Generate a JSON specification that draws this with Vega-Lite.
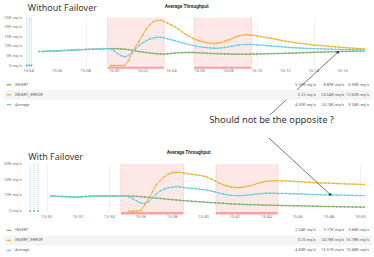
{
"$schema":"https://vega.github.io/schema/vega-lite/v6.json",
"background":"white",
"padding":{"left":3,"top":3.5,"right":3,"bottom":1},
"bounds":"flush",
"spacing":14.3,
"config":{"view":{"stroke":null},"font":"Roboto","axis":{"labels":false,"ticks":false,"tickSize":0,"domain":false,"gridColor":"#e9e9e9","gridWidth":0.6}},
"datasets":{
"top":[
{"t":54.75,"i":7.3,"a":7.3},{"t":55,"i":7.3,"a":7.3},{"t":55.25,"i":7.4,"a":7.4},{"t":55.5,"i":7.4,"a":7.4},{"t":55.75,"i":7.5,"a":7.5},{"t":56,"i":7.6,"a":7.6},{"t":56.25,"i":7.7,"a":7.7},{"t":56.5,"i":7.8,"a":7.8},{"t":56.75,"i":7.9,"a":7.9},{"t":57,"i":8.0,"a":8.0},{"t":57.25,"i":8.1,"a":8.1},{"t":57.5,"i":8.2,"a":8.2},{"t":57.75,"i":8.3,"a":8.3},{"t":58,"i":8.4,"a":8.4},{"t":58.25,"i":8.4,"a":8.4},{"t":58.5,"i":8.5,"a":8.5},{"t":58.75,"i":8.5,"a":8.5},{"t":59,"i":8.6,"a":8.6},{"t":59.25,"i":8.7,"a":8.7},{"t":59.5,"i":8.8,"a":8.8},
{"t":59.75,"i":8.8,"e":0,"a":8.6},{"t":60,"i":8.8,"e":0,"a":7.6},{"t":60.25,"i":8.7,"e":0,"a":6.2},{"t":60.5,"i":8.6,"e":0,"a":5.1},{"t":60.75,"i":8.5,"e":0.2,"a":4.6},{"t":61,"i":8.3,"e":2.5,"a":5.2},{"t":61.25,"i":8.0,"e":6.5,"a":6.8},{"t":61.5,"i":7.6,"e":9.8,"a":8.7},{"t":61.75,"i":7.3,"e":12.6,"a":10.4},{"t":62,"i":7.0,"e":16.0,"a":11.8},{"t":62.25,"i":6.8,"e":19.0,"a":12.9},{"t":62.5,"i":6.5,"e":21.3,"a":13.8},{"t":62.75,"i":6.3,"e":22.8,"a":14.4},{"t":63,"i":6.1,"e":23.5,"a":14.7},{"t":63.25,"i":6.0,"e":23.6,"a":14.7},{"t":63.5,"i":6.0,"e":23.0,"a":14.4},{"t":63.75,"i":6.1,"e":22.0,"a":13.9},{"t":64,"i":6.3,"e":21.1,"a":13.4},{"t":64.25,"i":6.5,"e":20.2,"a":12.9},{"t":64.5,"i":6.6,"e":18.9,"a":12.4},{"t":64.75,"i":6.7,"e":17.6,"a":11.9},{"t":65,"i":6.8,"e":16.3,"a":11.4},{"t":65.25,"i":6.8,"e":15.2,"a":10.9},{"t":65.5,"i":6.8,"e":14.2,"a":10.5},{"t":65.75,"i":6.7,"e":13.4,"a":10.1},{"t":66,"i":6.6,"e":12.8,"a":9.8},{"t":66.25,"i":6.5,"e":12.3,"a":9.5},{"t":66.5,"i":6.4,"e":11.9,"a":9.3},{"t":66.75,"i":6.3,"e":11.6,"a":9.1},{"t":67,"i":6.2,"e":11.5,"a":9.0},{"t":67.25,"i":6.1,"e":11.6,"a":9.0},{"t":67.5,"i":6.1,"e":12.0,"a":9.1},{"t":67.75,"i":6.0,"e":12.6,"a":9.4},{"t":68,"i":6.0,"e":13.3,"a":9.7},{"t":68.25,"i":5.9,"e":14.0,"a":10.0},{"t":68.5,"i":5.9,"e":14.8,"a":10.4},{"t":68.75,"i":5.9,"e":15.4,"a":10.7},{"t":69,"i":5.9,"e":15.8,"a":10.9},{"t":69.25,"i":5.9,"e":16.0,"a":11.0},{"t":69.5,"i":5.9,"e":15.9,"a":11.0},{"t":69.75,"i":6.0,"e":15.7,"a":10.9},{"t":70,"i":6.0,"e":15.4,"a":10.8},{"t":70.25,"i":6.0,"e":15.1,"a":10.6},{"t":70.5,"i":6.1,"e":14.8,"a":10.5},{"t":70.75,"i":6.1,"e":14.5,"a":10.3},{"t":71,"i":6.2,"e":14.2,"a":10.2},{"t":71.25,"i":6.2,"e":13.8,"a":10.0},{"t":71.5,"i":6.3,"e":13.4,"a":9.9},{"t":71.75,"i":6.3,"e":13.0,"a":9.7},{"t":72,"i":6.4,"e":12.7,"a":9.6},{"t":72.25,"i":6.4,"e":12.4,"a":9.4},{"t":72.5,"i":6.5,"e":12.1,"a":9.3},{"t":72.75,"i":6.5,"e":11.8,"a":9.2},{"t":73,"i":6.6,"e":11.6,"a":9.1},{"t":73.25,"i":6.7,"e":11.4,"a":9.0},{"t":73.5,"i":6.7,"e":11.1,"a":8.9},{"t":73.75,"i":6.8,"e":10.9,"a":8.9},{"t":74,"i":6.9,"e":10.7,"a":8.8},{"t":74.25,"i":6.9,"e":10.5,"a":8.7},{"t":74.5,"i":7.0,"e":10.4,"a":8.7},{"t":74.75,"i":7.0,"e":10.2,"a":8.6},{"t":75,"i":7.1,"e":10.0,"a":8.5},{"t":75.25,"i":7.1,"e":9.9,"a":8.5},{"t":75.5,"i":7.2,"e":9.7,"a":8.4},{"t":75.75,"i":7.2,"e":9.6,"a":8.4},{"t":76,"i":7.3,"e":9.4,"a":8.3},{"t":76.25,"i":7.3,"e":9.3,"a":8.3},{"t":76.5,"i":7.4,"e":9.1,"a":8.2},{"t":76.75,"i":7.4,"e":9.0,"a":8.2},{"t":77,"i":7.5,"e":8.9,"a":8.2},{"t":77.25,"i":7.5,"e":8.8,"a":8.1},{"t":77.5,"i":7.6,"e":8.7,"a":8.1}
],
"bot":[
{"t":30.25,"i":9.6,"a":9.6},{"t":30.5,"i":9.5,"a":9.5},{"t":30.75,"i":9.4,"a":9.4},{"t":31,"i":9.3,"a":9.3},{"t":31.25,"i":9.2,"a":9.2},{"t":31.5,"i":9.1,"a":9.1},{"t":31.75,"i":9.0,"a":9.0},{"t":32,"i":9.0,"a":9.0},{"t":32.25,"i":9.1,"a":9.1},{"t":32.5,"i":9.3,"a":9.3},{"t":32.75,"i":9.5,"a":9.5},{"t":33,"i":9.6,"a":9.6},{"t":33.25,"i":9.7,"a":9.7},{"t":33.5,"i":9.7,"a":9.7},{"t":33.75,"i":9.7,"a":9.7},{"t":34,"i":9.7,"a":9.7},{"t":34.25,"i":9.7,"a":9.7},{"t":34.5,"i":9.7,"a":9.7},{"t":34.75,"i":9.7,"a":9.7},{"t":35,"i":9.7,"a":9.6},
{"t":35.25,"i":9.6,"e":0,"a":9.0},{"t":35.5,"i":9.5,"e":0,"a":7.8},{"t":35.75,"i":9.4,"e":0,"a":6.4},{"t":36,"i":9.2,"e":0.4,"a":5.2},{"t":36.25,"i":9.0,"e":3.8,"a":4.9},{"t":36.5,"i":8.8,"e":8.0,"a":6.0},{"t":36.75,"i":8.6,"e":12.5,"a":8.4},{"t":37,"i":8.3,"e":16.8,"a":11.0},{"t":37.25,"i":8.1,"e":19.6,"a":12.9},{"t":37.5,"i":7.8,"e":21.9,"a":14.1},{"t":37.75,"i":7.6,"e":23.6,"a":14.9},{"t":38,"i":7.3,"e":24.5,"a":15.3},{"t":38.25,"i":7.1,"e":24.8,"a":15.5},{"t":38.5,"i":6.9,"e":24.7,"a":15.4},{"t":38.75,"i":6.7,"e":24.3,"a":15.1},{"t":39,"i":6.5,"e":23.9,"a":14.8},{"t":39.25,"i":6.3,"e":23.5,"a":14.5},{"t":39.5,"i":6.1,"e":23.2,"a":14.3},{"t":39.75,"i":5.9,"e":22.8,"a":14.0},{"t":40,"i":5.8,"e":22.3,"a":13.7},{"t":40.25,"i":5.6,"e":21.6,"a":13.3},{"t":40.5,"i":5.4,"e":20.5,"a":12.8},{"t":40.75,"i":5.3,"e":19.2,"a":12.2},{"t":41,"i":5.1,"e":17.9,"a":11.5},{"t":41.25,"i":5.0,"e":16.9,"a":10.9},{"t":41.5,"i":4.8,"e":16.0,"a":10.4},{"t":41.75,"i":4.6,"e":15.4,"a":10.1},{"t":42,"i":4.5,"e":15.1,"a":9.9},{"t":42.25,"i":4.4,"e":15.0,"a":9.8},{"t":42.5,"i":4.3,"e":15.2,"a":9.9},{"t":42.75,"i":4.2,"e":15.7,"a":10.1},{"t":43,"i":4.1,"e":16.3,"a":10.4},{"t":43.25,"i":4.1,"e":17.0,"a":10.7},{"t":43.5,"i":4.0,"e":17.8,"a":11.0},{"t":43.75,"i":3.9,"e":18.5,"a":11.2},{"t":44,"i":3.8,"e":19.0,"a":11.4},{"t":44.25,"i":3.8,"e":19.3,"a":11.4},{"t":44.5,"i":3.7,"e":19.4,"a":11.4},{"t":44.75,"i":3.7,"e":19.4,"a":11.3},{"t":45,"i":3.6,"e":19.3,"a":11.3},{"t":45.25,"i":3.5,"e":19.2,"a":11.2},{"t":45.5,"i":3.5,"e":19.1,"a":11.1},{"t":45.75,"i":3.4,"e":19.0,"a":11.1},{"t":46,"i":3.4,"e":18.8,"a":11.0},{"t":46.25,"i":3.3,"e":18.7,"a":10.9},{"t":46.5,"i":3.3,"e":18.5,"a":10.8},{"t":46.75,"i":3.2,"e":18.4,"a":10.7},{"t":47,"i":3.1,"e":18.2,"a":10.6},{"t":47.25,"i":3.1,"e":18.1,"a":10.6},{"t":47.5,"i":3.0,"e":18.0,"a":10.5},{"t":47.75,"i":3.0,"e":17.9,"a":10.4},{"t":48,"i":2.9,"e":17.8,"a":10.4},{"t":48.25,"i":2.9,"e":17.7,"a":10.3},{"t":48.5,"i":2.8,"e":17.6,"a":10.3},{"t":48.75,"i":2.8,"e":17.5,"a":10.2},{"t":49,"i":2.7,"e":17.4,"a":10.1},{"t":49.25,"i":2.7,"e":17.3,"a":10.1},{"t":49.5,"i":2.6,"e":17.2,"a":10.0},{"t":49.75,"i":2.6,"e":17.2,"a":10.0},{"t":50,"i":2.6,"e":17.1,"a":9.9},{"t":50.25,"i":2.55,"e":17.0,"a":9.9}
],
"topReg":[{"t":59.53,"t2":63.5},{"t":65.6,"t2":69.63}],
"botReg":[{"t":34.73,"t2":38.72},{"t":40.8,"t2":44.73}],
"topZero":[{"t":53.88},{"t":54.05},{"t":54.2}],
"botZero":[{"t":28.95},{"t":29.2},{"t":29.45}],
"topXL":[{"t":54,"lab":"15:54"},{"t":56,"lab":"15:56"},{"t":58,"lab":"15:58"},{"t":60,"lab":"16:00"},{"t":62,"lab":"16:02"},{"t":64,"lab":"16:04"},{"t":66,"lab":"16:06"},{"t":68,"lab":"16:08"},{"t":70,"lab":"16:10"},{"t":72,"lab":"16:12"},{"t":74,"lab":"16:14"},{"t":76,"lab":"16:16"}],
"botXL":[{"t":30,"lab":"15:30"},{"t":32,"lab":"15:32"},{"t":34,"lab":"15:34"},{"t":36,"lab":"15:36"},{"t":38,"lab":"15:38"},{"t":40,"lab":"15:40"},{"t":42,"lab":"15:42"},{"t":44,"lab":"15:44"},{"t":46,"lab":"15:46"},{"t":48,"lab":"15:48"},{"t":50,"lab":"15:50"}],
"topYL":[{"v":0,"lab":"0 req/s"},{"v":5,"lab":"5K req/s"},{"v":10,"lab":"10K req/s"},{"v":15,"lab":"15K req/s"},{"v":20,"lab":"20K req/s"},{"v":25,"lab":"25K req/s"}],
"botYL":[{"v":0,"lab":"0 req/s"},{"v":10,"lab":"10K req/s"},{"v":20,"lab":"20K req/s"},{"v":30,"lab":"30K req/s"}],
"topNotes":[{"k":"big","txt":"Without Failover","t":53.95,"v":30.05},{"k":"ttl","txt":"Average Throughput","t":65.08,"v":30.7},{"k":"note","txt":"Should not be the opposite ?","t":71.03,"v":-28.3}],
"botNotes":[{"k":"big","txt":"With Failover","t":28.82,"v":34.8},{"k":"ttl","txt":"Average Throughput","t":39.05,"v":36.8}],
"topArrow":[{"t":70.92,"v":-25.7,"end":0},{"t":75.67,"v":6.9,"end":1}],
"botArrow":[{"t":44.18,"v":46.6,"end":0},{"t":48.08,"v":10.6,"end":1}],
"topLegend":[{"name":"INSERT","min":"5.59K req/s","max":"8.83K req/s","avg":"6.90K req/s"},{"name":"INSERT_ERROR","min":"0.22 req/s","max":"23.64K req/s","avg":"12.60K req/s"},{"name":"Average","min":"4.50K req/s","max":"14.74K req/s","avg":"9.34K req/s"}],
"botLegend":[{"name":"INSERT","min":"2.54K req/s","max":"9.72K req/s","avg":"5.84K req/s"},{"name":"INSERT_ERROR","min":"0.25 req/s","max":"24.78K req/s","avg":"16.78K req/s"},{"name":"Average","min":"4.83K req/s","max":"15.51K req/s","avg":"10.48K req/s"}]
},
"vconcat":[
{"width":341,"height":48,"layer":[
{"data":{"name":"topReg"},"mark":{"type":"rect","fill":"#fde8e8"},"encoding":{"x":{"field":"t","type":"quantitative"},"x2":{"field":"t2"}}},
{"data":{"name":"topReg"},"mark":{"type":"rule","color":"#f1a3a3","strokeDash":[1,1],"strokeWidth":0.7},"encoding":{"x":{"field":"t","type":"quantitative"}}},
{"data":{"name":"topReg"},"mark":{"type":"rule","color":"#f1a3a3","strokeDash":[1,1],"strokeWidth":0.7},"encoding":{"x":{"field":"t2","type":"quantitative"}}},
{"data":{"name":"topReg"},"mark":{"type":"rect","fill":"#f7a1a1","clip":false},"encoding":{"x":{"field":"t","type":"quantitative"},"x2":{"field":"t2"},"y":{"datum":-0.5,"type":"quantitative"},"y2":{"datum":-1.7}}},
{"data":{"name":"topZero"},"mark":{"type":"rule","color":"#7cc7ea","strokeDash":[1,1],"strokeWidth":0.7},"encoding":{"x":{"field":"t","type":"quantitative"}}},
{"data":{"name":"topZero"},"mark":{"type":"point","filled":true,"size":3.5,"color":"#5a9bd5","opacity":1,"clip":false},"encoding":{"x":{"field":"t","type":"quantitative"},"y":{"datum":0,"type":"quantitative"}}},
{"data":{"name":"top"},"transform":[{"fold":["i","e","a"],"as":["s","v"]},{"filter":"isValid(datum.v)"}],
"mark":{"type":"line","strokeWidth":1,"clip":false,"point":{"filled":true,"size":3.5}},
"encoding":{
"x":{"field":"t","type":"quantitative","scale":{"domain":[53.82,77.72],"nice":false,"zero":false},"axis":{"title":null,"values":[54,56,58,60,62,64,66,68,70,72,74,76]}},
"y":{"field":"v","type":"quantitative","scale":{"domain":[0,25],"nice":false},"axis":{"title":null,"values":[0,5,10,15,20,25]}},
"color":{"field":"s","type":"nominal","scale":{"domain":["i","e","a"],"range":["#7EB26D","#EAB839","#6ED0E0"]},"legend":null}}},
{"data":{"name":"topXL"},"mark":{"type":"text","align":"center","baseline":"middle","fontSize":4.3,"color":"#7a7a7a","clip":false},"encoding":{"x":{"field":"t","type":"quantitative"},"y":{"datum":-3.1,"type":"quantitative"},"text":{"field":"lab"}}},
{"data":{"name":"topYL"},"mark":{"type":"text","align":"right","baseline":"middle","fontSize":4.1,"color":"#7a7a7a","clip":false},"encoding":{"x":{"datum":53.54,"type":"quantitative"},"y":{"field":"v","type":"quantitative"},"text":{"field":"lab"}}},
{"data":{"name":"topArrow"},"mark":{"type":"line","color":"#555555","strokeWidth":0.8,"clip":false},"encoding":{"x":{"field":"t","type":"quantitative"},"y":{"field":"v","type":"quantitative"}}},
{"data":{"name":"topArrow"},"transform":[{"filter":"datum.end == 1"}],"mark":{"type":"point","shape":"square","filled":true,"size":6,"color":"#444444","opacity":1,"clip":false},"encoding":{"x":{"field":"t","type":"quantitative"},"y":{"field":"v","type":"quantitative"}}},
{"data":{"name":"topNotes"},"transform":[{"filter":"datum.k == 'big'"}],"mark":{"type":"text","align":"left","baseline":"middle","fontSize":9,"font":"Noto Sans","color":"#3a3a3a","clip":false},"encoding":{"x":{"field":"t","type":"quantitative"},"y":{"field":"v","type":"quantitative"},"text":{"field":"txt"}}},
{"data":{"name":"topNotes"},"transform":[{"filter":"datum.k == 'ttl'"}],"mark":{"type":"text","align":"center","baseline":"middle","fontSize":4.8,"fontWeight":"bold","font":"Roboto","color":"#333333","clip":false},"encoding":{"x":{"field":"t","type":"quantitative"},"y":{"field":"v","type":"quantitative"},"text":{"field":"txt"}}},
{"data":{"name":"topNotes"},"transform":[{"filter":"datum.k == 'note'"}],"mark":{"type":"text","align":"center","baseline":"middle","fontSize":9.3,"font":"Noto Sans","color":"#333333","clip":false},"encoding":{"x":{"field":"t","type":"quantitative"},"y":{"field":"v","type":"quantitative"},"text":{"field":"txt"}}}
]},
{"width":341,"height":69.7,"data":{"name":"topLegend"},
"encoding":{"y":{"field":"name","type":"nominal","scale":{"domain":["INSERT","INSERT_ERROR","Average","_4","_5","_6","_7"],"paddingInner":0,"paddingOuter":0},"axis":null}},
"layer":[
{"transform":[{"filter":"datum.name == 'INSERT_ERROR'"}],"mark":{"type":"rect","fill":"#f4f4f4"},"encoding":{"x":{"datum":-6.5,"type":"quantitative","scale":{"domain":[0,100],"nice":false,"zero":false},"axis":null},"x2":{"datum":101.5}}},
{"mark":{"type":"point","shape":"M-1,-0.3H1V0.3H-1Z","filled":true,"size":20,"opacity":1},"encoding":{"x":{"datum":-5,"type":"quantitative"},"color":{"field":"name","type":"nominal","scale":{"domain":["INSERT","INSERT_ERROR","Average"],"range":["#7EB26D","#EAB839","#6ED0E0"]},"legend":null}}},
{"mark":{"type":"text","align":"left","baseline":"middle","fontSize":4,"color":"#666666"},"encoding":{"x":{"datum":-3.2,"type":"quantitative"},"text":{"field":"name"}}},
{"mark":{"type":"text","align":"right","baseline":"middle","fontSize":4,"color":"#666666"},"encoding":{"x":{"datum":85,"type":"quantitative"},"text":{"field":"min"}}},
{"mark":{"type":"text","align":"right","baseline":"middle","fontSize":4,"color":"#666666"},"encoding":{"x":{"datum":93.3,"type":"quantitative"},"text":{"field":"max"}}},
{"mark":{"type":"text","align":"right","baseline":"middle","fontSize":4,"color":"#666666"},"encoding":{"x":{"datum":100.6,"type":"quantitative"},"text":{"field":"avg"}}}
]},
{"width":341,"height":47,"layer":[
{"data":{"name":"botReg"},"mark":{"type":"rect","fill":"#fde8e8"},"encoding":{"x":{"field":"t","type":"quantitative"},"x2":{"field":"t2"}}},
{"data":{"name":"botReg"},"mark":{"type":"rule","color":"#f1a3a3","strokeDash":[1,1],"strokeWidth":0.7},"encoding":{"x":{"field":"t","type":"quantitative"}}},
{"data":{"name":"botReg"},"mark":{"type":"rule","color":"#f1a3a3","strokeDash":[1,1],"strokeWidth":0.7},"encoding":{"x":{"field":"t2","type":"quantitative"}}},
{"data":{"name":"botReg"},"mark":{"type":"rect","fill":"#f7a1a1","clip":false},"encoding":{"x":{"field":"t","type":"quantitative"},"x2":{"field":"t2"},"y":{"datum":-0.45,"type":"quantitative"},"y2":{"datum":-2.1}}},
{"data":{"name":"botZero"},"mark":{"type":"rule","color":"#7cc7ea","strokeDash":[1,1],"strokeWidth":0.7},"encoding":{"x":{"field":"t","type":"quantitative"}}},
{"data":{"name":"botZero"},"mark":{"type":"point","filled":true,"size":3.5,"color":"#5a9bd5","opacity":1,"clip":false},"encoding":{"x":{"field":"t","type":"quantitative"},"y":{"datum":0,"type":"quantitative"}}},
{"data":{"name":"bot"},"transform":[{"fold":["i","e","a"],"as":["s","v"]},{"filter":"isValid(datum.v)"}],
"mark":{"type":"line","strokeWidth":1,"clip":false,"point":{"filled":true,"size":3.5}},
"encoding":{
"x":{"field":"t","type":"quantitative","scale":{"domain":[28.68,50.43],"nice":false,"zero":false},"axis":{"title":null,"values":[30,32,34,36,38,40,42,44,46,48,50]}},
"y":{"field":"v","type":"quantitative","scale":{"domain":[0,30],"nice":false},"axis":{"title":null,"values":[0,10,20,30]}},
"color":{"field":"s","type":"nominal","scale":{"domain":["i","e","a"],"range":["#7EB26D","#EAB839","#6ED0E0"]},"legend":null}}},
{"data":{"name":"botXL"},"mark":{"type":"text","align":"center","baseline":"middle","fontSize":4.3,"color":"#7a7a7a","clip":false},"encoding":{"x":{"field":"t","type":"quantitative"},"y":{"datum":-3.64,"type":"quantitative"},"text":{"field":"lab"}}},
{"data":{"name":"botYL"},"mark":{"type":"text","align":"right","baseline":"middle","fontSize":4.1,"color":"#7a7a7a","clip":false},"encoding":{"x":{"datum":28.42,"type":"quantitative"},"y":{"field":"v","type":"quantitative"},"text":{"field":"lab"}}},
{"data":{"name":"botArrow"},"mark":{"type":"line","color":"#555555","strokeWidth":0.8,"clip":false},"encoding":{"x":{"field":"t","type":"quantitative"},"y":{"field":"v","type":"quantitative"}}},
{"data":{"name":"botArrow"},"transform":[{"filter":"datum.end == 1"}],"mark":{"type":"point","shape":"square","filled":true,"size":6,"color":"#444444","opacity":1,"clip":false},"encoding":{"x":{"field":"t","type":"quantitative"},"y":{"field":"v","type":"quantitative"}}},
{"data":{"name":"botNotes"},"transform":[{"filter":"datum.k == 'big'"}],"mark":{"type":"text","align":"left","baseline":"middle","fontSize":9,"font":"Noto Sans","color":"#3a3a3a","clip":false},"encoding":{"x":{"field":"t","type":"quantitative"},"y":{"field":"v","type":"quantitative"},"text":{"field":"txt"}}},
{"data":{"name":"botNotes"},"transform":[{"filter":"datum.k == 'ttl'"}],"mark":{"type":"text","align":"center","baseline":"middle","fontSize":4.8,"fontWeight":"bold","font":"Roboto","color":"#333333","clip":false},"encoding":{"x":{"field":"t","type":"quantitative"},"y":{"field":"v","type":"quantitative"},"text":{"field":"txt"}}}
]},
{"width":341,"height":30,"data":{"name":"botLegend"},
"encoding":{"y":{"field":"name","type":"nominal","scale":{"domain":["INSERT","INSERT_ERROR","Average"],"paddingInner":0,"paddingOuter":0},"axis":null}},
"layer":[
{"transform":[{"filter":"datum.name == 'INSERT_ERROR'"}],"mark":{"type":"rect","fill":"#f4f4f4"},"encoding":{"x":{"datum":-6.5,"type":"quantitative","scale":{"domain":[0,100],"nice":false,"zero":false},"axis":null},"x2":{"datum":101.5}}},
{"mark":{"type":"point","shape":"M-1,-0.3H1V0.3H-1Z","filled":true,"size":20,"opacity":1},"encoding":{"x":{"datum":-5,"type":"quantitative"},"color":{"field":"name","type":"nominal","scale":{"domain":["INSERT","INSERT_ERROR","Average"],"range":["#7EB26D","#EAB839","#6ED0E0"]},"legend":null}}},
{"mark":{"type":"text","align":"left","baseline":"middle","fontSize":4,"color":"#666666"},"encoding":{"x":{"datum":-3.2,"type":"quantitative"},"text":{"field":"name"}}},
{"mark":{"type":"text","align":"right","baseline":"middle","fontSize":4,"color":"#666666"},"encoding":{"x":{"datum":85,"type":"quantitative"},"text":{"field":"min"}}},
{"mark":{"type":"text","align":"right","baseline":"middle","fontSize":4,"color":"#666666"},"encoding":{"x":{"datum":93.3,"type":"quantitative"},"text":{"field":"max"}}},
{"mark":{"type":"text","align":"right","baseline":"middle","fontSize":4,"color":"#666666"},"encoding":{"x":{"datum":100.6,"type":"quantitative"},"text":{"field":"avg"}}}
]}
]
}
